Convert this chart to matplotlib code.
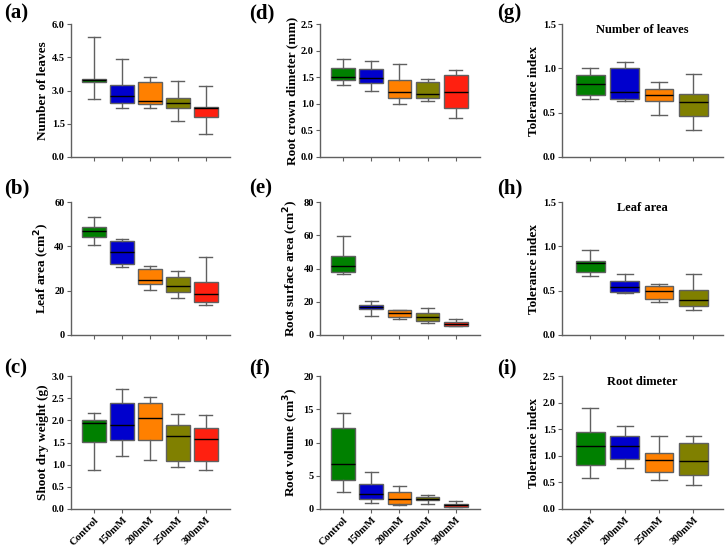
import matplotlib
matplotlib.use("Agg")
import matplotlib.pyplot as plt

plt.rcParams['font.family'] = ['Liberation Serif', 'DejaVu Serif']
plt.rcParams['font.weight'] = 'bold'

cats5 = ["Control", "150mM", "200mM", "250mM", "300mM"]
cats4 = ["150mM", "200mM", "250mM", "300mM"]
colors5 = ["#008000", "#0000CD", "#FF8000", "#808000", "#FF2010"]
colors4 = ["#008000", "#0000CD", "#FF8000", "#808000"]

# each list: (whislo, q1, med, q3, whishi) per category
leaves = [(2.62, 3.39, 3.46, 3.51, 5.43), (2.2, 2.43, 2.73, 3.24, 4.42),
          (2.2, 2.37, 2.52, 3.4, 3.63), (1.62, 2.19, 2.43, 2.64, 3.42),
          (1.02, 1.8, 2.19, 2.25, 3.22)]
leaf_area = [(40.8, 44.1, 46.8, 48.9, 53.2), (30.6, 32.0, 37.6, 42.3, 43.5),
             (20.3, 23.1, 25.0, 29.9, 31.0), (16.7, 19.5, 22.0, 26.3, 28.7),
             (13.5, 14.9, 18.5, 23.9, 35.0)]
shoot_dw = [(0.89, 1.52, 1.93, 2.01, 2.17), (1.19, 1.56, 1.89, 2.38, 2.71),
            (1.10, 1.56, 2.05, 2.38, 2.53), (0.95, 1.09, 1.64, 1.89, 2.15),
            (0.89, 1.09, 1.59, 1.82, 2.12)]
crown_d = [(1.36, 1.44, 1.51, 1.68, 1.85), (1.25, 1.40, 1.49, 1.66, 1.81),
           (0.99, 1.11, 1.23, 1.44, 1.75), (1.06, 1.11, 1.18, 1.41, 1.46),
           (0.73, 0.92, 1.22, 1.54, 1.64)]
root_sa = [(36.8, 38.0, 41.6, 47.6, 59.5), (11.3, 15.9, 16.7, 17.9, 20.3),
           (9.9, 11.1, 13.3, 14.9, 15.1), (7.0, 8.6, 10.9, 13.1, 16.1),
           (5.4, 5.6, 6.8, 8.0, 9.9)]
root_vol = [(2.5, 4.4, 6.8, 12.2, 14.5), (0.95, 1.5, 2.2, 3.7, 5.5),
            (0.65, 0.8, 1.5, 2.5, 3.4), (0.8, 1.4, 1.5, 1.75, 2.1),
            (0.25, 0.35, 0.6, 0.8, 1.25)]
ti_leaves = [(0.65, 0.70, 0.82, 0.93, 1.0), (0.63, 0.65, 0.73, 1.0, 1.07),
             (0.47, 0.63, 0.70, 0.77, 0.85), (0.30, 0.46, 0.62, 0.71, 0.94)]
ti_area = [(0.66, 0.71, 0.81, 0.84, 0.96), (0.47, 0.49, 0.54, 0.61, 0.69),
           (0.37, 0.41, 0.495, 0.555, 0.58), (0.28, 0.33, 0.40, 0.51, 0.69)]
ti_rootd = [(0.59, 0.825, 1.175, 1.44, 1.9), (0.77, 0.94, 1.175, 1.375, 1.56),
            (0.54, 0.70, 0.925, 1.06, 1.375), (0.45, 0.64, 0.91, 1.25, 1.38)]

W, H = 725, 546
fig = plt.figure(figsize=(W / 100, H / 100), dpi=100)

cols = [(71, 230), (320, 480), (562, 723)]
rows = [(24, 157), (202, 335), (376, 509)]

panels = [
    # (col,row,label,data,cats,colors,ylabel,yticks,yticklabels,title)
    (0, 0, "(a)", leaves, cats5, colors5, "Number of leaves", [0, 1.5, 3.0, 4.5, 6.0], ["0.0", "1.5", "3.0", "4.5", "6.0"], None),
    (0, 1, "(b)", leaf_area, cats5, colors5, "Leaf area (cm$^\\mathbf{2}$)", [0, 20, 40, 60], ["0", "20", "40", "60"], None),
    (0, 2, "(c)", shoot_dw, cats5, colors5, "Shoot dry weight (g)", [0, 0.5, 1.0, 1.5, 2.0, 2.5, 3.0], ["0.0", "0.5", "1.0", "1.5", "2.0", "2.5", "3.0"], None),
    (1, 0, "(d)", crown_d, cats5, colors5, "Root crown dimeter (mm)", [0, 0.5, 1.0, 1.5, 2.0, 2.5], ["0.0", "0.5", "1.0", "1.5", "2.0", "2.5"], None),
    (1, 1, "(e)", root_sa, cats5, colors5, "Root surface area (cm$^\\mathbf{2}$)", [0, 20, 40, 60, 80], ["0", "20", "40", "60", "80"], None),
    (1, 2, "(f)", root_vol, cats5, colors5, "Root volume (cm$^\\mathbf{3}$)", [0, 5, 10, 15, 20], ["0", "5", "10", "15", "20"], None),
    (2, 0, "(g)", ti_leaves, cats4, colors4, "Tolerance index", [0, 0.5, 1.0, 1.5], ["0.0", "0.5", "1.0", "1.5"], "Number of leaves"),
    (2, 1, "(h)", ti_area, cats4, colors4, "Tolerance index", [0, 0.5, 1.0, 1.5], ["0.0", "0.5", "1.0", "1.5"], "Leaf area"),
    (2, 2, "(i)", ti_rootd, cats4, colors4, "Tolerance index", [0, 0.5, 1.0, 1.5, 2.0, 2.5], ["0.0", "0.5", "1.0", "1.5", "2.0", "2.5"], "Root dimeter"),
]

label_pos = {0: 4, 1: 249, 2: 497}
label_y = {0: 3, 1: 178, 2: 358}
spine_col = "#606060"

for c, r, lab, data, cats, cols_, ylabel, yt, ytl, title in panels:
    x0, x1 = cols[c]
    y0, y1 = rows[r]
    ax = fig.add_axes([x0 / W, 1 - y1 / H, (x1 - x0) / W, (y1 - y0) / H])
    stats = []
    for name, (lo, q1, med, q3, hi) in zip(cats, data):
        stats.append(dict(label=name, whislo=lo, q1=q1, med=med, q3=q3, whishi=hi, fliers=[]))
    n = len(cats)
    pos = list(range(1, n + 1))
    bp = ax.bxp(stats, positions=pos, widths=0.84, capwidths=0.46, patch_artist=True,
                showfliers=False,
                boxprops=dict(edgecolor=spine_col, linewidth=1.0),
                medianprops=dict(color="black", linewidth=1.0),
                whiskerprops=dict(color=spine_col, linewidth=1.0),
                capprops=dict(color=spine_col, linewidth=1.0))
    for patch, col in zip(bp["boxes"], cols_):
        patch.set_facecolor(col)
    ax.set_xlim(0.18, n + 0.86)
    ax.set_ylim(yt[0], yt[-1])
    ax.set_yticks(yt)
    ax.set_yticklabels(ytl, fontsize=7.5, fontweight='bold')
    ax.set_xticks(pos)
    if r == 2:
        ax.set_xticklabels(cats, rotation=45, ha='right', rotation_mode='anchor',
                           fontsize=7.8, fontweight='bold')
    else:
        ax.set_xticklabels([])
    ax.set_ylabel(ylabel, fontsize=9.5, fontweight='bold', labelpad=2)
    for s in ["top", "right"]:
        ax.spines[s].set_visible(False)
    for s in ["left", "bottom"]:
        ax.spines[s].set_color(spine_col)
        ax.spines[s].set_linewidth(1.0)
    ax.tick_params(axis='both', color=spine_col, length=3, width=0.8, pad=1.5)
    if title:
        ax.text(0.5, 1.0, title, transform=ax.transAxes, ha='center', va='top',
                fontsize=9, fontweight='bold')
    fig.text(label_pos[c] / W, 1 - label_y[r] / H, lab, ha='left', va='top',
             fontsize=15, fontweight='bold')

fig.savefig("out.png", dpi=100)
